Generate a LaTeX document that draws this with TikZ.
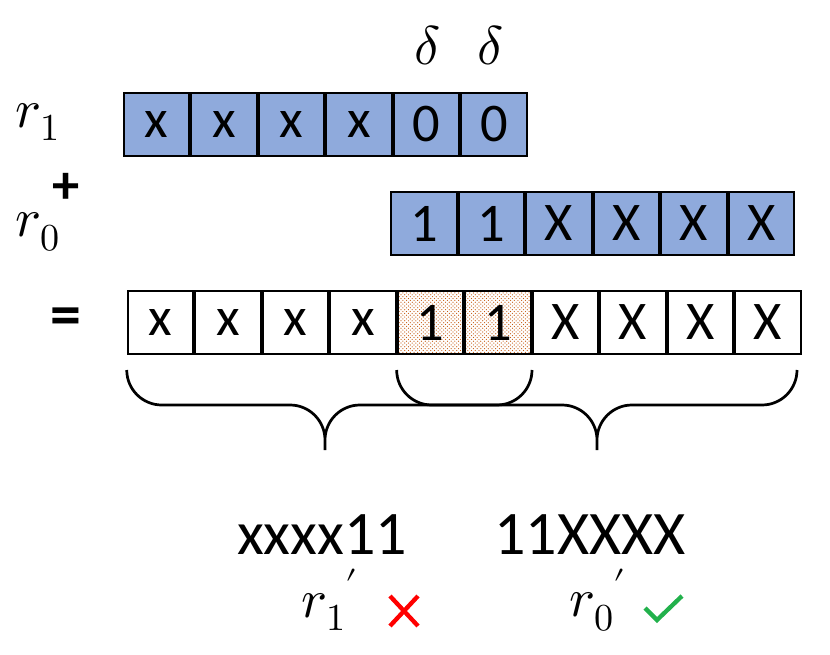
\documentclass[tikz,border=0pt]{standalone}
\usepackage{fontspec}
\usepackage{unicode-math}
\setmathfont{Latin Modern Math}
\setsansfont{Carlito}
\usepackage{tikz}
\usetikzlibrary{
  positioning,
  chains,
  patterns
}
\definecolor{cellBlue}{HTML}{8FAADC}
\definecolor{dotOrange}{HTML}{C55A11}
\definecolor{crossRed}{HTML}{FF0000}
\definecolor{tickGreen}{HTML}{22B14C}
\tikzset{
  bit/.style={
    draw, line width=1.6pt,
    minimum width=1.86cm, minimum height=1.79cm,
    inner sep=0pt, font=\sffamily\fontsize{44}{44}\selectfont
  }
}
\begin{document}
\begin{tikzpicture}[x=0.0284cm,y=-0.0284cm,
      node distance=0pt
      ]
      \useasboundingbox (0,0) rectangle (830,655);

      % first operand
      \begin{scope}[start chain=a going right]
      \node[on chain, bit, fill=cellBlue] (a1) at (156.5,124.5) {x};
      \foreach \i/\j in {2/x, 3/x, 4/x, 5/0, 6/0}{
        \node[on chain, bit, fill=cellBlue] (a\i) {\j};
      }
      \end{scope}
      % second operand
      \begin{scope}[start chain=b going right]
      \node[on chain, bit, fill=cellBlue] (b1) at (424,223.5) {1};
      \foreach \i/\j in {2/1, 3/X, 4/X, 5/X, 6/X}{
        \node[on chain, bit, fill=cellBlue] (b\i) {\j};
      }
      \end{scope}
      % result
      \begin{scope}[start chain=c going right]
      \node[on chain, bit] (c1) at (160.5,322.5) {x};
      \foreach \i in {2,3,4}{
        \node[on chain, bit] (c\i) {x};
      }
      \foreach \i in {5,6}{
        \node[on chain, bit, pattern=crosshatch dots, pattern color=dotOrange] (c\i) {};
        \node[bit, draw=none] at (c\i) {1};
      }
      \foreach \i in {7,...,10}{
        \node[on chain, bit] (c\i) {X};
      }
      \end{scope}

      \node (d1) at (428,45) {\fontsize{44}{44}\selectfont$\delta$};
      \node (d2) at (491,45) {\fontsize{44}{44}\selectfont$\delta$};
      \node (r1) at (38,122) {\fontsize{44}{44}\selectfont$r_1$};
      \node (plus) at (66,188) {\sffamily\bfseries\fontsize{44}{44}\selectfont+};
      \node (r0) at (38,232) {\fontsize{44}{44}\selectfont$r_0$};
      \node (eq) at (66,322) {\sffamily\bfseries\fontsize{50}{50}\selectfont=};

      % braces
      \draw[line width=2.2pt]
        (c1.south west) ++(0,15) arc[start angle=180, end angle=90, radius=35]
        -- (290,405) arc[start angle=270, end angle=360, radius=35] -- ++(0,10)
        ++(0,-10) arc[start angle=180, end angle=270, radius=35]
        -- (497,405) arc[start angle=90, end angle=0, radius=35];
      \draw[line width=2.2pt]
        (c5.south west) ++(0,15) arc[start angle=180, end angle=90, radius=35]
        -- (562,405) arc[start angle=270, end angle=360, radius=35] -- ++(0,10)
        ++(0,-10) arc[start angle=180, end angle=270, radius=35]
        -- (762,405) arc[start angle=90, end angle=0, radius=35];

      \node (s1) at (322,535) {\sffamily\fontsize{50}{50}\selectfont xxxx11};
      \node (s0) at (590,535) {\sffamily\fontsize{50}{50}\selectfont 11XXXX};
      \node (p1) at (330,600) {\fontsize{44}{44}\selectfont$r_1{}'$};
      \node (p0) at (598,600) {\fontsize{44}{44}\selectfont$r_0{}'$};
      \draw[crossRed, line width=3.5pt] (390,596) -- (418,626) (390,626) -- (418,596);
      \draw[tickGreen, line width=3.5pt] (645,608) -- (657,620) -- (682,596);
    \end{tikzpicture}
\end{document}
